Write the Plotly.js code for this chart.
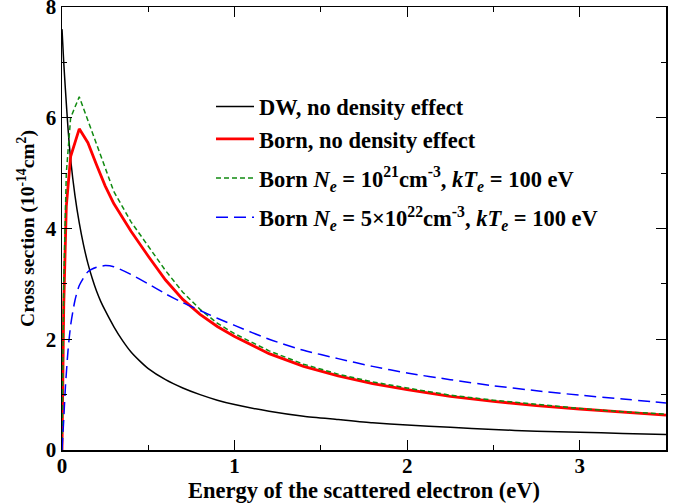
<!DOCTYPE html>
<html>
<head>
<meta charset="utf-8">
<script src="https://cdn.plot.ly/plotly-3.0.1.min.js"></script>
<style>html,body{margin:0;padding:0;background:#fff;}#chart{width:682px;height:503px;}</style>
</head>
<body>
<div id="chart"></div>
<script>
// Energy of the scattered electron (eV)
const xDW    = [0, 0.01, 0.02, 0.035, 0.05, 0.075, 0.1, 0.125, 0.15, 0.175, 0.2, 0.225, 0.25, 0.3, 0.35, 0.4, 0.45, 0.5, 0.6, 0.7, 0.8, 0.9, 1.0, 1.2, 1.4, 1.6, 1.8, 2.0, 2.25, 2.5, 2.75, 3.0, 3.25, 3.5];
const yDW    = [7.6, 7.0, 6.5, 5.8, 5.25, 4.6, 4.1, 3.7, 3.37, 3.1, 2.87, 2.68, 2.52, 2.23, 1.98, 1.77, 1.61, 1.47, 1.27, 1.12, 1.0, 0.9, 0.82, 0.7, 0.61, 0.55, 0.49, 0.45, 0.41, 0.37, 0.34, 0.32, 0.3, 0.28];

const xBorn  = [0, 0.01, 0.025, 0.05, 0.1, 0.15, 0.2, 0.25, 0.3, 0.4, 0.5, 0.6, 0.7, 0.8, 0.9, 1.0, 1.2, 1.4, 1.6, 1.8, 2.0, 2.25, 2.5, 2.75, 3.0, 3.25, 3.5];
const yBorn  = [0, 2.6, 4.4, 5.3, 5.8, 5.55, 5.15, 4.77, 4.45, 3.95, 3.5, 3.07, 2.72, 2.45, 2.23, 2.05, 1.74, 1.51, 1.34, 1.2, 1.09, 0.97, 0.88, 0.8, 0.74, 0.68, 0.63];
const yBorn21 = [0, 3.0, 5.0, 6.0, 6.38, 5.95, 5.5, 5.1, 4.67, 4.12, 3.67, 3.24, 2.85, 2.54, 2.29, 2.1, 1.79, 1.55, 1.37, 1.23, 1.12, 0.99, 0.9, 0.82, 0.75, 0.69, 0.65];

const xBorn22 = [0, 0.01, 0.02, 0.035, 0.05, 0.075, 0.1, 0.15, 0.2, 0.25, 0.3, 0.4, 0.5, 0.6, 0.7, 0.8, 0.9, 1.0, 1.2, 1.4, 1.6, 1.8, 2.0, 2.25, 2.5, 2.75, 3.0, 3.25, 3.5];
const yBorn22 = [0, 0.55, 1.15, 1.8, 2.25, 2.7, 2.97, 3.22, 3.3, 3.33, 3.31, 3.17, 3.0, 2.82, 2.66, 2.52, 2.38, 2.25, 2.0, 1.8, 1.65, 1.51, 1.39, 1.27, 1.16, 1.07, 0.99, 0.92, 0.85];

const names = [
  '<b>DW, no density effect</b>',
  '<b>Born, no density effect</b>',
  '<b>Born <i>N</i><sub><i>e</i></sub> = 10<sup>21</sup>cm<sup>-3</sup>, <i>kT</i><sub><i>e</i></sub> = 100 eV</b>',
  '<b>Born <i>N</i><sub><i>e</i></sub> = 5×10<sup>22</sup>cm<sup>-3</sup>, <i>kT</i><sub><i>e</i></sub> = 100 eV</b>'
];

const FONT = 'Liberation Serif';

const traces = [
  {x: xDW, y: yDW, name: names[0], legendgroup: 'a', mode: 'lines', line: {color: '#000000', width: 1.5, shape: 'spline', smoothing: 0.6}},
  {x: xBorn, y: yBorn, name: names[1], legendgroup: 'a', mode: 'lines', line: {color: '#ff0000', width: 2.8}},
  {x: xBorn, y: yBorn21, name: names[2], legendgroup: 'c', mode: 'lines', line: {color: '#108a10', width: 1.5, dash: '5px,3px'}},
  {x: xBorn22, y: yBorn22, name: names[3], legendgroup: 'd', mode: 'lines', line: {color: '#0000ff', width: 1.5, dash: '12px,6px', shape: 'spline', smoothing: 0.6}}
];

const axisCommon = {
  showgrid: false, zeroline: false,
  showline: true, linecolor: '#000', linewidth: 1.5, mirror: 'allticks',
  ticks: 'inside', ticklen: 10, tickwidth: 1.2, tickcolor: '#000',
  ticklabeloverflow: 'allow',
  tickfont: {family: FONT, size: 21, color: '#000', weight: 'bold'}
};

const layout = {
  width: 682, height: 503,
  margin: {l: 62, r: 16, t: 7, b: 53},
  paper_bgcolor: '#fff', plot_bgcolor: '#fff',
  showlegend: true,
  legend: {
    x: 0.2467, y: 0.823, xanchor: 'left', yanchor: 'top',
    bgcolor: 'rgba(0,0,0,0)', borderwidth: 0,
    font: {family: FONT, size: 22.5, color: '#000', weight: 'bold'},
    itemwidth: 38,
    tracegroupgap: 7
  },
  xaxis: Object.assign({}, axisCommon, {
    range: [0, 3.5], dtick: 1, tick0: 0, ticklabelstandoff: -4,
    minor: {dtick: 0.5, tick0: 0, ticks: 'inside', ticklen: 5, tickwidth: 1.2, tickcolor: '#000'},
    title: {text: '<b>Energy of the scattered electron (eV)</b>', standoff: 0,
            font: {family: FONT, size: 22.5, color: '#000', weight: 'bold'}}
  }),
  yaxis: Object.assign({}, axisCommon, {
    range: [0, 8], dtick: 2, tick0: 0,
    minor: {dtick: 1, tick0: 0, ticks: 'inside', ticklen: 5, tickwidth: 1.2, tickcolor: '#000'},
    title: {text: '<b>Cross section (10<sup>-14</sup>cm<sup>2</sup>)</b>', standoff: 6,
            font: {family: FONT, size: 19.5, color: '#000', weight: 'bold'}}
  })
};

Plotly.newPlot('chart', traces, layout, {staticPlot: true, displayModeBar: false});
</script>
</body>
</html>
